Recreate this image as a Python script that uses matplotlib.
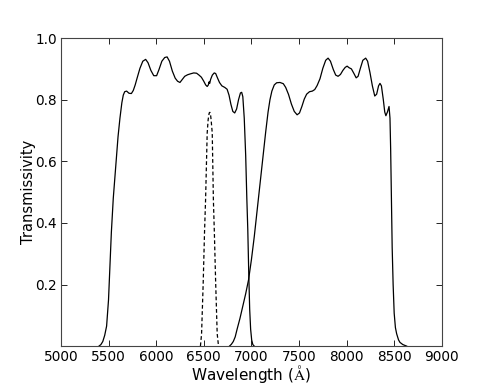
import matplotlib
matplotlib.use("Agg")
import matplotlib.pyplot as plt

plt.rcParams['mathtext.fontset'] = 'cm'

# broad filter 1 (red side)
wave_r = [5400, 5420, 5440, 5460, 5480, 5500, 5515, 5530, 5550, 5575, 5600, 5620,
          5640, 5655, 5670, 5690, 5715, 5740, 5760, 5780, 5800, 5830, 5860, 5890,
          5915, 5945, 5975, 6005, 6030, 6060, 6090, 6115, 6140, 6170, 6200, 6225,
          6250, 6275, 6300, 6330, 6360, 6395, 6425, 6450, 6475, 6500, 6520, 6536,
          6548, 6556, 6562, 6572, 6590, 6610, 6625, 6645, 6665, 6690, 6720, 6745,
          6765, 6785, 6805, 6825, 6845, 6865, 6885, 6898, 6910, 6925, 6940, 6952,
          6962, 6972, 6982, 6992, 7003, 7015, 7030]
trans_r = [0.0, 0.005, 0.015, 0.035, 0.065, 0.15, 0.26, 0.37, 0.48, 0.58, 0.68, 0.74,
           0.79, 0.815, 0.826, 0.828, 0.821, 0.820, 0.830, 0.848, 0.870, 0.902, 0.925, 0.931,
           0.920, 0.895, 0.878, 0.878, 0.898, 0.925, 0.937, 0.939, 0.925, 0.893, 0.870, 0.860,
           0.856, 0.866, 0.876, 0.881, 0.884, 0.887, 0.886, 0.880, 0.873, 0.860, 0.848, 0.843,
           0.848, 0.858, 0.853, 0.866, 0.880, 0.887, 0.885, 0.870, 0.856, 0.845, 0.840, 0.834,
           0.815, 0.785, 0.762, 0.757, 0.770, 0.800, 0.822, 0.824, 0.81, 0.74, 0.62, 0.48,
           0.38, 0.24, 0.12, 0.055, 0.02, 0.005, 0.0]

# broad filter 2 (near-IR side)
wave_i = [6770, 6790, 6810, 6830, 6850, 6880, 6910, 6940, 6970, 7000, 7030, 7060,
          7090, 7120, 7150, 7175, 7195, 7215, 7240, 7265, 7300, 7335, 7360, 7390,
          7420, 7450, 7480, 7505, 7530, 7555, 7580, 7610, 7640, 7665, 7690, 7720,
          7750, 7780, 7805, 7830, 7860, 7885, 7910, 7935, 7960, 7985, 8005, 8025,
          8050, 8075, 8100, 8120, 8145, 8170, 8200, 8220, 8245, 8270, 8295, 8315,
          8335, 8350, 8365, 8385, 8400, 8412, 8428, 8445, 8455, 8462, 8470, 8478,
          8488, 8499, 8512, 8525, 8545, 8560, 8590, 8630]
trans_i = [0.0, 0.006, 0.015, 0.03, 0.055, 0.09, 0.13, 0.17, 0.215, 0.28, 0.355, 0.44,
           0.525, 0.61, 0.695, 0.76, 0.80, 0.828, 0.848, 0.855, 0.856, 0.852, 0.840, 0.817,
           0.786, 0.762, 0.751, 0.757, 0.778, 0.802, 0.818, 0.826, 0.828, 0.833, 0.846, 0.868,
           0.902, 0.928, 0.935, 0.925, 0.898, 0.880, 0.876, 0.882, 0.895, 0.905, 0.909, 0.904,
           0.900, 0.886, 0.871, 0.876, 0.903, 0.928, 0.935, 0.925, 0.888, 0.845, 0.812, 0.818,
           0.845, 0.853, 0.845, 0.800, 0.760, 0.748, 0.760, 0.778, 0.74, 0.64, 0.48, 0.32,
           0.20, 0.107, 0.06, 0.04, 0.02, 0.012, 0.005, 0.0]

# narrow H-alpha filter
wave_ha = [6465, 6477, 6494, 6508, 6519, 6536, 6546, 6557, 6564, 6570, 6577, 6589,
           6601, 6612, 6625, 6641, 6655]
trans_ha = [0.0, 0.04, 0.205, 0.37, 0.475, 0.692, 0.735, 0.757, 0.759, 0.755, 0.735, 0.692,
            0.475, 0.36, 0.205, 0.04, 0.0]

xticks = [5000, 5500, 6000, 6500, 7000, 7500, 8000, 8500, 9000]
yticks = [0.2, 0.4, 0.6, 0.8, 1.0]

fig = plt.figure(figsize=(4.91, 3.85), dpi=100)
ax = fig.add_axes([0.124, 0.101, 0.776, 0.800])

ax.plot(wave_r, trans_r, color='k', lw=0.9)
ax.plot(wave_i, trans_i, color='k', lw=0.9)
ax.plot(wave_ha, trans_ha, color='k', lw=0.9, ls='--', dashes=(3, 2))

ax.set_xlim(5000, 9000)
ax.set_ylim(0, 1.0)
ax.set_xticks(xticks)
ax.set_yticks(yticks)
ax.tick_params(direction='in', top=True, right=True, length=4, width=0.6,
               labelsize=9.8, pad=3)
for sp in ax.spines.values():
    sp.set_linewidth(0.8)
    sp.set_color('#444444')

ax.set_xlabel(r'Wavelength ($\mathrm{\AA}$)', fontsize=11, labelpad=-1)
ax.set_ylabel('Transmissivity', fontsize=10.5, labelpad=-1)

plt.savefig("out.png", dpi=100)
